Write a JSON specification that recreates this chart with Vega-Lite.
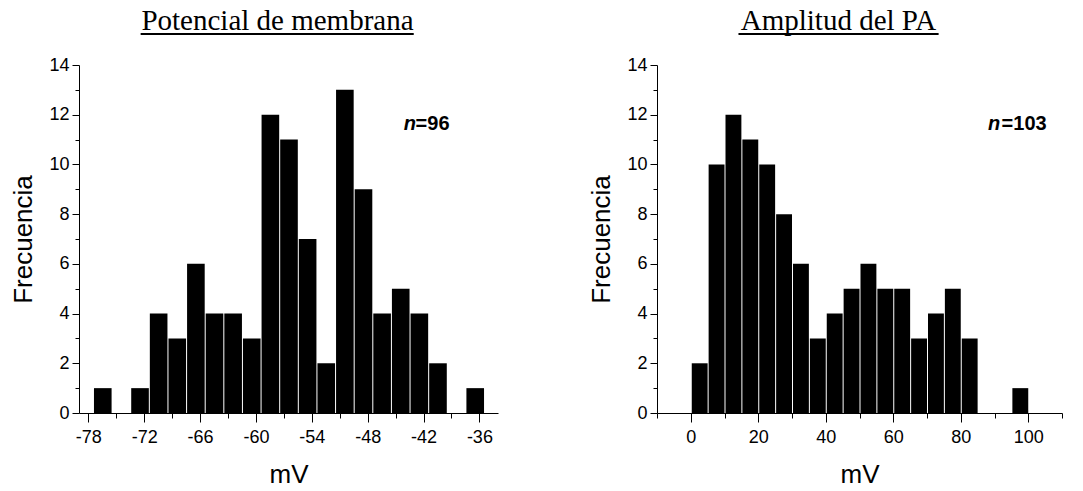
{
  "$schema": "https://vega.github.io/schema/vega-lite/v6.json",
  "background": "white",
  "padding": {"left": 10, "top": 6, "right": 5, "bottom": 5},
  "spacing": 90,
  "config": {
    "view": {"stroke": null},
    "font": "Liberation Sans",
    "axis": {
      "grid": false,
      "domainColor": "black",
      "domainWidth": 1,
      "tickColor": "black",
      "tickWidth": 1,
      "labelColor": "black",
      "labelFont": "Liberation Sans",
      "labelFontSize": 18,
      "labelPadding": 3,
      "titleColor": "black",
      "titleFont": "Liberation Sans",
      "titleFontWeight": "normal",
      "titleFontSize": 26
    },
    "axisX": {"titlePadding": 15, "labelPadding": 6, "tickSize": 9},
    "axisY": {"titlePadding": 12, "tickSize": 7},
    "title": {"font": "Liberation Serif", "fontSize": 29, "fontWeight": "normal", "color": "black"}
  },
  "datasets": {
    "potencial": [
      {"desde": -77.5, "hasta": -75.5, "frecuencia": 1},
      {"desde": -73.5, "hasta": -71.5, "frecuencia": 1},
      {"desde": -71.5, "hasta": -69.5, "frecuencia": 4},
      {"desde": -69.5, "hasta": -67.5, "frecuencia": 3},
      {"desde": -67.5, "hasta": -65.5, "frecuencia": 6},
      {"desde": -65.5, "hasta": -63.5, "frecuencia": 4},
      {"desde": -63.5, "hasta": -61.5, "frecuencia": 4},
      {"desde": -61.5, "hasta": -59.5, "frecuencia": 3},
      {"desde": -59.5, "hasta": -57.5, "frecuencia": 12},
      {"desde": -57.5, "hasta": -55.5, "frecuencia": 11},
      {"desde": -55.5, "hasta": -53.5, "frecuencia": 7},
      {"desde": -53.5, "hasta": -51.5, "frecuencia": 2},
      {"desde": -51.5, "hasta": -49.5, "frecuencia": 13},
      {"desde": -49.5, "hasta": -47.5, "frecuencia": 9},
      {"desde": -47.5, "hasta": -45.5, "frecuencia": 4},
      {"desde": -45.5, "hasta": -43.5, "frecuencia": 5},
      {"desde": -43.5, "hasta": -41.5, "frecuencia": 4},
      {"desde": -41.5, "hasta": -39.5, "frecuencia": 2},
      {"desde": -37.5, "hasta": -35.5, "frecuencia": 1}
    ],
    "amplitud": [
      {"desde": 0, "hasta": 5, "frecuencia": 2},
      {"desde": 5, "hasta": 10, "frecuencia": 10},
      {"desde": 10, "hasta": 15, "frecuencia": 12},
      {"desde": 15, "hasta": 20, "frecuencia": 11},
      {"desde": 20, "hasta": 25, "frecuencia": 10},
      {"desde": 25, "hasta": 30, "frecuencia": 8},
      {"desde": 30, "hasta": 35, "frecuencia": 6},
      {"desde": 35, "hasta": 40, "frecuencia": 3},
      {"desde": 40, "hasta": 45, "frecuencia": 4},
      {"desde": 45, "hasta": 50, "frecuencia": 5},
      {"desde": 50, "hasta": 55, "frecuencia": 6},
      {"desde": 55, "hasta": 60, "frecuencia": 5},
      {"desde": 60, "hasta": 65, "frecuencia": 5},
      {"desde": 65, "hasta": 70, "frecuencia": 3},
      {"desde": 70, "hasta": 75, "frecuencia": 4},
      {"desde": 75, "hasta": 80, "frecuencia": 5},
      {"desde": 80, "hasta": 85, "frecuencia": 3},
      {"desde": 95, "hasta": 100, "frecuencia": 1}
    ]
  },
  "hconcat": [
    {
      "width": 419,
      "height": 348,
      "title": {"text": "Potencial de membrana", "dx": -11, "offset": -3},
      "resolve": {"axis": {"x": "independent", "y": "independent"}},
      "layer": [
        {
          "data": {"name": "potencial"},
          "mark": {"type": "bar", "color": "black"},
          "encoding": {
            "x": {
              "field": "desde",
              "type": "quantitative",
              "bin": "binned",
              "scale": {"domain": [-79, -34], "nice": false, "zero": false},
              "axis": {
                "title": "mV",
                "values": [-78, -72, -66, -60, -54, -48, -42, -36],
                "labelExpr": "'' + datum.value"
              }
            },
            "x2": {"field": "hasta"},
            "y": {
              "field": "frecuencia",
              "type": "quantitative",
              "scale": {"domain": [0, 14], "nice": false},
              "axis": {
                "title": "Frecuencia",
                "values": [0, 2, 4, 6, 8, 10, 12, 14],
                "labelExpr": "'' + datum.value"
              }
            }
          }
        },
        {
          "data": {"values": [{}]},
          "mark": {"type": "rule", "clip": false, "strokeWidth": 2, "color": "black"},
          "encoding": {
            "x": {
              "datum": -72.38,
              "type": "quantitative",
              "axis": {"orient": "bottom", "values": [-75, -69, -63, -57, -51, -45, -39], "labels": false, "domain": false, "title": null, "tickSize": 5}
            },
            "x2": {"datum": -43.05},
            "y": {
              "datum": 15.25,
              "type": "quantitative",
              "axis": {"orient": "left", "values": [1, 3, 5, 7, 9, 11, 13], "labels": false, "domain": false, "title": null, "tickSize": 4}
            }
          }
        },
        {
          "data": {"values": [{}]},
          "mark": {"type": "text", "text": "n", "font": "Liberation Sans", "fontSize": 20, "fontWeight": "bold", "fontStyle": "italic", "align": "left", "baseline": "alphabetic", "color": "black"},
          "encoding": {
            "x": {"datum": -44.13, "type": "quantitative", "axis": null},
            "y": {"datum": 11.4, "type": "quantitative", "axis": null}
          }
        },
        {
          "data": {"values": [{}]},
          "mark": {"type": "text", "text": "=96", "font": "Liberation Sans", "fontSize": 20, "fontWeight": "bold", "align": "left", "baseline": "alphabetic", "color": "black"},
          "encoding": {
            "x": {"datum": -42.85, "type": "quantitative", "axis": null},
            "y": {"datum": 11.4, "type": "quantitative", "axis": null}
          }
        }
      ]
    },
    {
      "width": 405,
      "height": 348,
      "title": {"text": "Amplitud del PA", "dx": -21, "offset": -3},
      "resolve": {"axis": {"x": "independent", "y": "independent"}},
      "layer": [
        {
          "data": {"name": "amplitud"},
          "mark": {"type": "bar", "color": "black"},
          "encoding": {
            "x": {
              "field": "desde",
              "type": "quantitative",
              "bin": "binned",
              "scale": {"domain": [-10, 110], "nice": false, "zero": false},
              "axis": {
                "title": "mV",
                "values": [0, 20, 40, 60, 80, 100],
                "labelExpr": "'' + datum.value"
              }
            },
            "x2": {"field": "hasta"},
            "y": {
              "field": "frecuencia",
              "type": "quantitative",
              "scale": {"domain": [0, 14], "nice": false},
              "axis": {
                "title": "Frecuencia",
                "values": [0, 2, 4, 6, 8, 10, 12, 14],
                "labelExpr": "'' + datum.value"
              }
            }
          }
        },
        {
          "data": {"values": [{}]},
          "mark": {"type": "rule", "clip": false, "strokeWidth": 2, "color": "black"},
          "encoding": {
            "x": {
              "datum": 14.14,
              "type": "quantitative",
              "axis": {"orient": "bottom", "values": [-10, 10, 30, 50, 70, 90, 110], "labels": false, "domain": false, "title": null, "tickSize": 5}
            },
            "x2": {"datum": 73.44},
            "y": {
              "datum": 15.25,
              "type": "quantitative",
              "axis": {"orient": "left", "values": [1, 3, 5, 7, 9, 11, 13], "labels": false, "domain": false, "title": null, "tickSize": 4}
            }
          }
        },
        {
          "data": {"values": [{}]},
          "mark": {"type": "text", "text": "n", "font": "Liberation Sans", "fontSize": 20, "fontWeight": "bold", "fontStyle": "italic", "align": "left", "baseline": "alphabetic", "color": "black"},
          "encoding": {
            "x": {"datum": 88.05, "type": "quantitative", "axis": null},
            "y": {"datum": 11.4, "type": "quantitative", "axis": null}
          }
        },
        {
          "data": {"values": [{}]},
          "mark": {"type": "text", "text": "=103", "font": "Liberation Sans", "fontSize": 20, "fontWeight": "bold", "align": "left", "baseline": "alphabetic", "color": "black"},
          "encoding": {
            "x": {"datum": 92.1, "type": "quantitative", "axis": null},
            "y": {"datum": 11.4, "type": "quantitative", "axis": null}
          }
        }
      ]
    }
  ]
}
